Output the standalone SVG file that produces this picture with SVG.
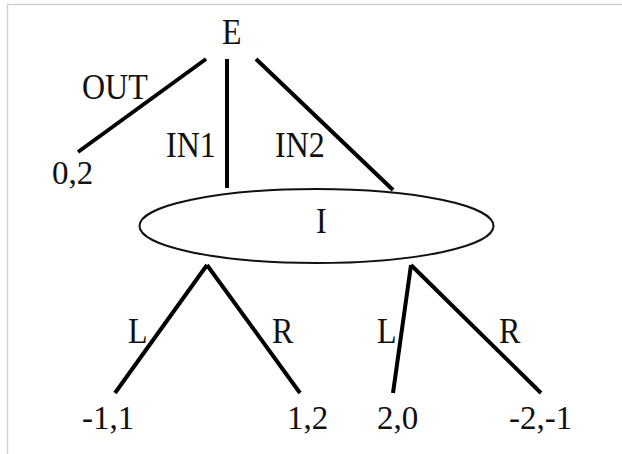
<svg xmlns="http://www.w3.org/2000/svg" width="622" height="454" viewBox="0 0 622 454">
<style>
.t{font-family:"Liberation Serif","DejaVu Serif",serif;font-size:32px;fill:#111}
.n{font-family:"Liberation Serif","DejaVu Serif",serif;font-size:33px;fill:#111}
.e{stroke:#000;stroke-width:4;stroke-linecap:butt;fill:none}
</style>
<rect width="622" height="454" fill="#fff"/>
<path d="M7.5 454V4.5H622" fill="none" stroke="#d2d2d2" stroke-width="1.5"/>
<g id="connectors">
<line class="e" x1="206" y1="59" x2="78" y2="152"/>
<line class="e" x1="227" y1="59" x2="227" y2="188"/>
<line class="e" x1="256" y1="59" x2="393" y2="190"/>
<line class="e" x1="207" y1="265" x2="115" y2="393"/>
<line class="e" x1="207" y1="265" x2="300" y2="393"/>
<line class="e" x1="411" y1="265" x2="393" y2="393"/>
<line class="e" x1="411" y1="265" x2="541" y2="393"/>
</g>
<g id="labels">
<text class="t" transform="translate(82 99) scale(1 1.13)">OUT</text>
<text class="t" transform="translate(166 157) scale(1 1.13)">IN1</text>
<text class="t" transform="translate(275 157) scale(1 1.13)">IN2</text>
<text class="t" transform="translate(128 343) scale(1 1.13)">L</text>
<text class="t" transform="translate(272 343) scale(1 1.13)">R</text>
<text class="t" transform="translate(377 343) scale(1 1.13)">L</text>
<text class="t" transform="translate(499 343) scale(1 1.13)">R</text>
</g>
<g id="node-E"><text class="t" transform="translate(222 44) scale(1 1.13)">E</text></g>
<g id="node-I">
<ellipse cx="316.5" cy="226" rx="177" ry="37" fill="#fff" stroke="#111" stroke-width="2"/>
<text class="t" transform="translate(316 233) scale(1 1.13)">I</text>
</g>
<g id="leaf-02"><text class="n" x="52" y="184">0,2</text></g>
<g id="leaf-m11"><text class="n" x="82" y="429">-1,1</text></g>
<g id="leaf-12"><text class="n" x="287" y="429">1,2</text></g>
<g id="leaf-20"><text class="n" x="377" y="429">2,0</text></g>
<g id="leaf-m2m1"><text class="n" x="509" y="429">-2,-1</text></g>
</svg>
